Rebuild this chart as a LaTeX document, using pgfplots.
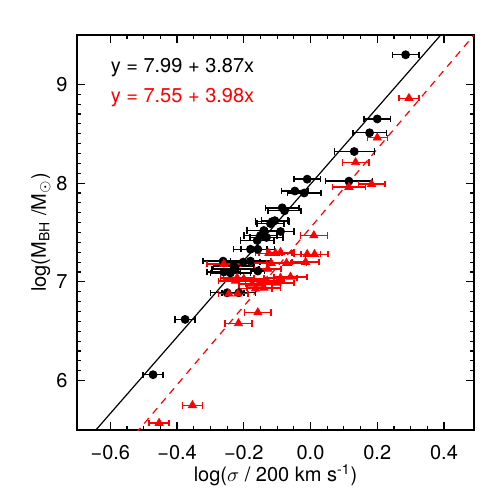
\documentclass[border=0pt]{standalone}
\usepackage{fontspec}
\setmainfont{TeX Gyre Heros}
\usepackage{pgfplots}
\pgfplotsset{compat=1.18}
\definecolor{fitred}{RGB}{255,0,0}
\begin{document}
\begin{tikzpicture}
\path[use as bounding box] (-38.5pt,-35pt) rectangle (211.5pt,215pt);
\begin{axis}[
  at={(0,0)}, anchor=south west,
  width=198.5pt, height=197.5pt, scale only axis,
  xmin=-0.7, xmax=0.49, ymin=5.5, ymax=9.5,
  xtick={-0.6,-0.4,-0.2,0,0.2,0.4},
  xticklabels={−0.6,−0.4,−0.2,0.0,0.2,0.4},
  minor x tick num=3,
  ytick={6,7,8,9}, yticklabels={6,7,8,9},
  minor y tick num=9,
  tick align=inside,
  major tick length=4pt, minor tick length=2pt,
  axis line style={line width=0.7pt},
  tick style={line width=0.6pt, black},
  font=\fontsize{10}{12}\selectfont,
  xticklabel style={yshift=-4pt},
  yticklabel style={xshift=-1.2pt},
  xlabel={log($\sigma$ / 200 km s\textsuperscript{-1})},
  ylabel={log(M\textsubscript{BH} /M$_\odot$)},
  xlabel style={at={(axis description cs:0.5,-0.114)}, anchor=center},
  ylabel style={at={(axis description cs:-0.0907,0.5)}, anchor=center},
]

% fitted relations
\addplot[black, line width=0.6pt] coordinates {(-0.7,5.281) (0.49,9.886)};
\addplot[fitred, line width=0.6pt, dash pattern=on 3.5pt off 3pt] coordinates {(-0.7,4.764) (0.49,9.500)};

% black sample
\addplot[only marks, mark=*, mark size=2pt, black,
  error bars/.cd, x dir=both, x explicit,
  error bar style={line width=0.7pt, black},
  error mark options={rotate=90, mark size=1.6pt, line width=0.7pt, black}]
  table[x=x, y=y, x error=ex] {
x y ex
0.285 9.30 0.04
0.200 8.65 0.04
0.177 8.51 0.05
0.131 8.32 0.06
0.115 8.02 0.07
-0.010 8.04 0.04
-0.047 7.92 0.04
-0.019 7.90 0.05
-0.085 7.75 0.05
-0.078 7.72 0.05
-0.115 7.61 0.05
-0.107 7.62 0.04
-0.120 7.59 0.04
-0.090 7.51 0.04
-0.140 7.52 0.05
-0.150 7.47 0.05
-0.132 7.45 0.05
-0.160 7.42 0.05
-0.180 7.33 0.05
-0.158 7.33 0.05
-0.262 7.21 0.06
-0.202 7.20 0.05
-0.180 7.21 0.06
-0.230 7.16 0.06
-0.225 7.13 0.07
-0.240 7.09 0.06
-0.260 7.10 0.05
-0.158 7.11 0.02
-0.250 6.89 0.05
-0.215 6.89 0.05
-0.376 6.62 0.03
-0.472 6.06 0.03
};

% red sample
\addplot[only marks, mark=triangle*, mark size=2.3pt, fitred,
  error bars/.cd, x dir=both, x explicit,
  error bar style={line width=0.7pt, fitred},
  error mark options={rotate=90, mark size=1.6pt, line width=0.7pt, fitred}]
  table[x=x, y=y, x error=ex] {
x y ex
0.295 8.86 0.03
0.200 8.46 0.03
0.135 8.21 0.04
0.183 7.99 0.04
0.115 7.96 0.05
0.010 7.47 0.04
-0.010 7.28 0.04
0.012 7.28 0.04
-0.015 7.20 0.04
-0.072 7.19 0.06
-0.118 7.19 0.06
-0.128 7.13 0.04
-0.260 7.18 0.05
-0.105 7.29 0.05
-0.090 7.30 0.04
-0.125 7.29 0.04
-0.060 7.05 0.05
-0.090 7.04 0.05
-0.100 6.99 0.05
-0.130 7.01 0.05
-0.155 6.98 0.04
-0.175 6.98 0.04
-0.200 7.03 0.06
-0.220 7.04 0.05
-0.225 7.01 0.05
-0.165 6.93 0.05
-0.140 6.94 0.05
-0.245 6.88 0.03
-0.218 6.88 0.03
-0.158 6.69 0.04
-0.216 6.58 0.04
-0.354 5.75 0.03
-0.454 5.57 0.03
};

\node[anchor=west, inner sep=0pt, black] at (axis cs:-0.6,9.17) {y = 7.99 + 3.87x};
\node[anchor=west, inner sep=0pt, fitred] at (axis cs:-0.6,8.87) {y = 7.55 + 3.98x};
\end{axis}
\end{tikzpicture}
\end{document}
